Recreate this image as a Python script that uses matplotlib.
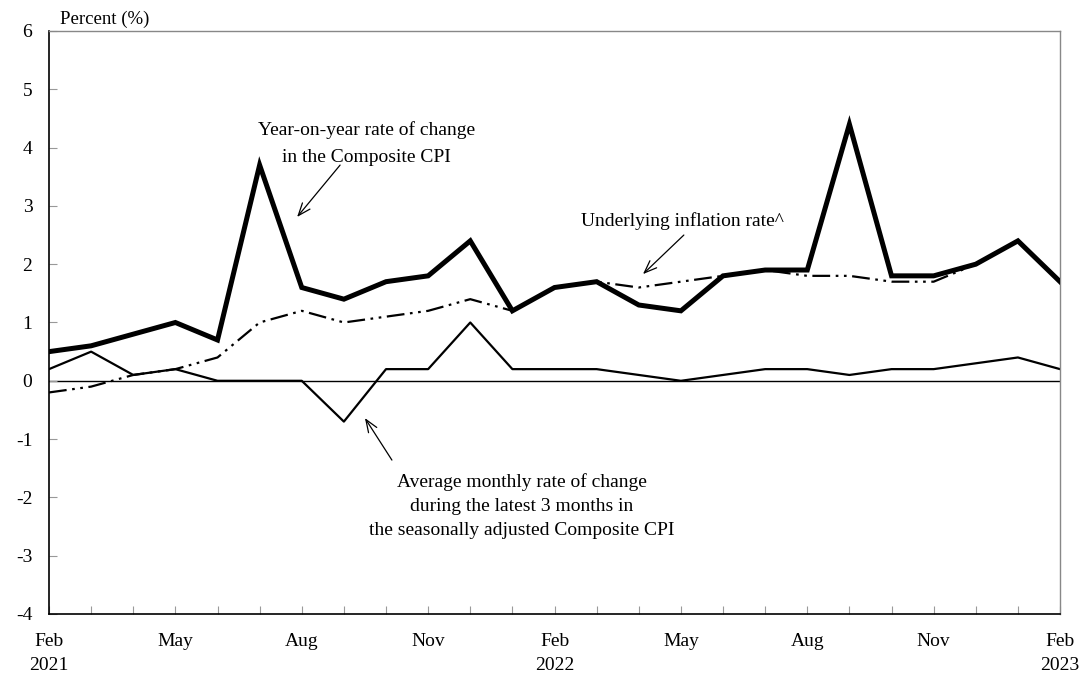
import numpy as np
import matplotlib
matplotlib.use("Agg")
import matplotlib.pyplot as plt

plt.rcParams["font.family"] = ["Liberation Serif", "DejaVu Serif"]

# Feb 2021 .. Feb 2023, monthly
months = ["Feb\n2021", "", "", "May", "", "", "Aug", "", "", "Nov", "", "",
          "Feb\n2022", "", "", "May", "", "", "Aug", "", "", "Nov", "", "",
          "Feb\n2023"]

yoy_cpi = [0.5, 0.6, 0.8, 1.0, 0.7, 3.7, 1.6, 1.4, 1.7, 1.8, 2.4, 1.2,
           1.6, 1.7, 1.3, 1.2, 1.8, 1.9, 1.9, 4.4, 1.8, 1.8, 2.0, 2.4, 1.7]
underlying = [-0.2, -0.1, 0.1, 0.2, 0.4, 1.0, 1.2, 1.0, 1.1, 1.2, 1.4, 1.2,
              1.6, 1.7, 1.6, 1.7, 1.8, 1.9, 1.8, 1.8, 1.7, 1.7, 2.0, 2.4, 1.7]
avg_3m = [0.2, 0.5, 0.1, 0.2, 0.0, 0.0, 0.0, -0.7, 0.2, 0.2, 1.0, 0.2,
          0.2, 0.2, 0.1, 0.0, 0.1, 0.2, 0.2, 0.1, 0.2, 0.2, 0.3, 0.4, 0.2]

x = np.arange(len(months))

fig = plt.figure(figsize=(10.84, 6.78), dpi=100)
ax = fig.add_axes([0.0452, 0.0944, 0.9327, 0.8599])

ax.axhline(0, color="black", lw=1.0, zorder=1)
ax.plot(x, avg_3m, color="black", lw=1.6, zorder=2)
ax.plot(x, underlying, color="black", lw=1.6,
        linestyle=(0, (8, 2.5, 1.2, 2.5, 1.2, 2.5)), zorder=3)
ax.plot(x, yoy_cpi, color="black", lw=3.6, zorder=4, solid_joinstyle="miter")

ax.set_xlim(0, len(months) - 1)
ax.set_ylim(-4, 6)
ax.set_yticks(range(-4, 7))
ax.set_yticklabels([str(v) for v in range(-4, 7)])
ax.set_xticks(x)
ax.set_xticklabels(months)

ax.tick_params(axis="x", direction="in", length=6, width=0.8, color="#999999",
               labelsize=14, pad=14)
ax.tick_params(axis="y", direction="in", length=6, width=0.8, color="#999999",
               labelsize=14, pad=12)
for lab in ax.get_xticklabels():
    lab.set_linespacing(1.5)

for s in ["top", "right"]:
    ax.spines[s].set_color("#888888")
    ax.spines[s].set_linewidth(1.0)
for s in ["left", "bottom"]:
    ax.spines[s].set_color("black")
    ax.spines[s].set_linewidth(1.2)

ax.text(0.011, 1.005, "Percent (%)", transform=ax.transAxes, fontsize=13.5,
        ha="left", va="bottom")

arrow = dict(arrowstyle="->,head_length=0.9,head_width=0.35", color="black", lw=0.9,
             shrinkA=0, shrinkB=0)

ax.annotate("", xy=(5.89, 2.81), xytext=(6.91, 3.70), arrowprops=arrow)
ax.text(7.53, 4.07, "Year-on-year rate of change\nin the Composite CPI",
        ha="center", va="center", fontsize=14, linespacing=1.8)

ax.annotate("", xy=(14.10, 1.83), xytext=(15.07, 2.50), arrowprops=arrow)
ax.text(15.03, 2.74, "Underlying inflation rate^", ha="center", va="center",
        fontsize=14)

ax.annotate("", xy=(7.50, -0.64), xytext=(8.14, -1.36), arrowprops=arrow)
ax.text(11.23, -2.15, "Average monthly rate of change\nduring the latest 3 months in\n"
        "the seasonally adjusted Composite CPI",
        ha="center", va="center", fontsize=14, linespacing=1.56)

fig.savefig("out.png", dpi=100)
